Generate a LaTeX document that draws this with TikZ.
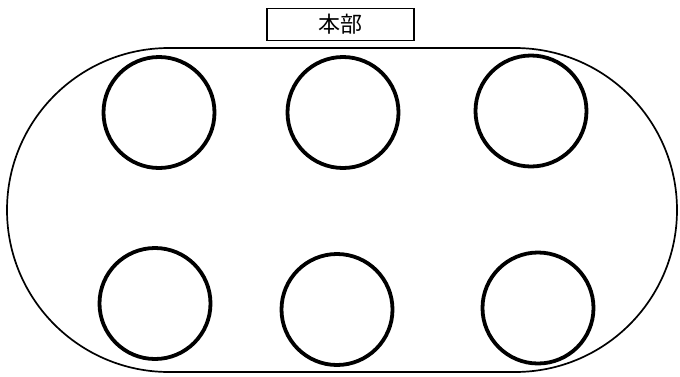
\documentclass[tikz,border=0pt]{standalone}
\usepackage{fontspec}
\newfontfamily\cjk{Noto Sans CJK JP}
\tikzset{
  table/.style={draw=black, line width=3.8pt, circle, minimum size=111pt, inner sep=0pt},
  hq/.style={draw=black, line width=1.8pt, minimum width=147pt, minimum height=32pt, inner sep=0pt, font=\cjk\fontsize{22}{24}\selectfont},
  track/.style={draw=black, line width=1.7pt, rounded corners=162pt},
}
\begin{document}
\begin{tikzpicture}[x=1pt,y=-1pt]
\useasboundingbox (0,0) rectangle (680,376);
% stadium outline
\path[track] (7,48) rectangle (677,372);
\node[hq] (hq) at (340.5,24.5) {本部};
\node[table] (t1) at (159,112.5) {};
\node[table] (t2) at (343,112.5) {};
\node[table] (t3) at (531,111) {};
\node[table] (t4) at (155,303.5) {};
\node[table] (t5) at (337,309.5) {};
\node[table] (t6) at (538,308) {};
\end{tikzpicture}
\end{document}
